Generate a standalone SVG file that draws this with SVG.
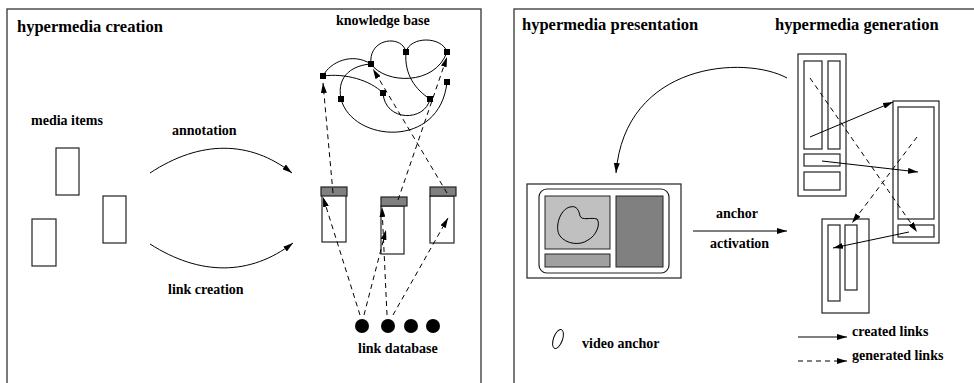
<svg xmlns="http://www.w3.org/2000/svg" width="974" height="383" viewBox="0 0 974 383">
<style>
text{font-family:"Liberation Serif","Times New Roman",serif;font-weight:bold;fill:#000}
.t{font-size:16.5px}
.l{font-size:14px}
.frame{fill:none;stroke:#333;stroke-width:1.3}
.box{fill:#fff;stroke:#222;stroke-width:1.2}
.hdr{fill:#808080;stroke:#222;stroke-width:1.2}
.ln{fill:none;stroke:#000;stroke-width:1}
.ds{fill:none;stroke:#000;stroke-width:1;stroke-dasharray:5,4}
.kn{fill:#000}
</style>
<defs>
<marker id="ah" viewBox="0 0 10 6" refX="10" refY="3" markerWidth="10" markerHeight="6" markerUnits="userSpaceOnUse" orient="auto">
<path d="M0,0 L10,3 L0,6 Z" fill="#000"/>
</marker>
</defs>

<rect class="frame" x="7" y="9" width="474" height="390"/>
<rect class="frame" x="514" y="9" width="470" height="390"/>

<g id="creation-title"><text class="t" x="17" y="32">hypermedia creation</text></g>
<g id="kb-title"><text class="l" x="336" y="25">knowledge base</text></g>
<g id="media-items">
<text class="l" x="31" y="125">media items</text>
<rect class="box" x="56" y="148" width="23" height="47"/>
<rect class="box" x="32" y="219" width="24" height="47"/>
<rect class="box" x="103" y="196" width="23" height="47"/>
</g>
<g id="annotation-label"><text class="l" x="172" y="135">annotation</text></g>
<g id="link-creation-label"><text class="l" x="168" y="294">link creation</text></g>

<g id="doc1">
<rect class="box" x="322" y="195" width="24" height="47"/>
<rect class="hdr" x="321" y="187" width="26" height="9"/>
</g>
<g id="doc2">
<rect class="box" x="381" y="206" width="23" height="48"/>
<rect class="hdr" x="381" y="197" width="26" height="9"/>
</g>
<g id="doc3">
<rect class="box" x="430" y="196" width="24" height="47"/>
<rect class="hdr" x="430" y="187" width="26" height="9"/>
</g>

<g id="link-database">
<circle class="kn" cx="362" cy="326" r="7"/>
<circle class="kn" cx="388" cy="326" r="7"/>
<circle class="kn" cx="411" cy="326" r="7"/>
<circle class="kn" cx="433" cy="326" r="7"/>
<text class="l" x="358" y="353">link database</text>
</g>

<g id="knowledge-base">
<path class="ln" d="M323,76 C330,62 352,52 371,64"/>
<path class="ln" d="M323,76 C345,73 370,80 383,93"/>
<path class="ln" d="M371,64 C368,38 402,34 406,52"/>
<path class="ln" d="M406,52 C410,36 442,36 447,52"/>
<path class="ln" d="M371,64 C385,84 435,86 447,52"/>
<path class="ln" d="M406,52 C404,75 416,90 430,99"/>
<path class="ln" d="M383,93 C385,122 425,122 430,99"/>
<path class="ln" d="M341,99 C336,74 355,65 371,64"/>
<path class="ln" d="M341,99 C352,142 440,150 447,82"/>
<rect class="kn" x="320" y="73" width="6" height="6"/>
<rect class="kn" x="368" y="61" width="6" height="6"/>
<rect class="kn" x="403" y="49" width="6" height="6"/>
<rect class="kn" x="444" y="49" width="6" height="6"/>
<rect class="kn" x="444" y="79" width="6" height="6"/>
<rect class="kn" x="380" y="90" width="6" height="6"/>
<rect class="kn" x="427" y="96" width="6" height="6"/>
<rect class="kn" x="338" y="96" width="6" height="6"/>
</g>

<g id="presentation-title"><text class="t" x="522" y="30">hypermedia presentation</text></g>
<g id="generation-title"><text class="t" x="775" y="30">hypermedia generation</text></g>

<g id="screen">
<rect class="box" x="527" y="184" width="154" height="94"/>
<rect class="box" x="539" y="189" width="130" height="84" rx="8"/>
<rect x="545" y="196" width="65" height="53" fill="#c0c0c0" stroke="#222" stroke-width="1"/>
<rect x="545" y="254" width="65" height="13" fill="#a0a0a0" stroke="#222" stroke-width="1"/>
<rect x="616" y="196" width="47" height="71" fill="#808080" stroke="#222" stroke-width="1"/>
<path class="ln" d="M570,207 C577,205 579,211 580,216 C582,221 591,217 597,219 C601,224 596,236 588,240 C580,246 566,244 560,236 C554,228 560,209 570,207 Z" stroke-width="1.2"/>
</g>

<g id="anchor-activation">
<text class="l" x="716" y="218">anchor</text>
<text class="l" x="710" y="248">activation</text>
</g>

<g id="genA">
<rect class="box" x="798" y="54" width="48" height="142"/>
<rect class="box" x="804" y="61" width="18" height="88"/>
<rect class="box" x="828" y="61" width="12" height="88"/>
<rect class="box" x="804" y="154" width="36" height="12"/>
<rect class="box" x="804" y="172" width="36" height="18"/>
</g>
<g id="genB">
<rect class="box" x="893" y="101" width="46" height="142"/>
<rect class="box" x="898" y="107" width="36" height="112"/>
<rect class="box" x="898" y="225" width="36" height="12"/>
</g>
<g id="genC">
<rect class="box" x="822" y="219" width="47" height="94"/>
<rect class="box" x="828" y="225" width="12" height="76"/>
<rect class="box" x="845" y="225" width="12" height="65"/>
</g>

<g id="legend">
<path class="ln" d="M798,337 L847,337" marker-end="url(#ah)"/>
<path class="ds" d="M798,361 L847,361" marker-end="url(#ah)"/>
<text class="l" x="852" y="336">created links</text>
<text class="l" x="852" y="360">generated links</text>
<ellipse cx="558" cy="339" rx="4.5" ry="10" transform="rotate(20 558 339)" fill="none" stroke="#000" stroke-width="1"/>
<text class="l" x="582" y="348">video anchor</text>
</g>

<g id="connectors">
<path class="ln" d="M150,173 C200,140 250,140 292,173" marker-end="url(#ah)"/>
<path class="ln" d="M150,244 C200,276 250,276 293,243" marker-end="url(#ah)"/>
<path class="ds" d="M360,315 L323,197" marker-end="url(#ah)"/>
<path class="ds" d="M364,315 L386,230" marker-end="url(#ah)"/>
<path class="ds" d="M387,315 L382,207" marker-end="url(#ah)"/>
<path class="ds" d="M393,315 L448,218" marker-end="url(#ah)"/>
<path class="ds" d="M333,193 L323,83" marker-end="url(#ah)"/>
<path class="ds" d="M398,200 L447,57" marker-end="url(#ah)"/>
<path class="ds" d="M447,193 L373,69" marker-end="url(#ah)"/>
<path class="ln" d="M787,78 C745,55 625,62 616,173" marker-end="url(#ah)"/>
<path class="ln" d="M693,231 L787,231" marker-end="url(#ah)"/>
<path class="ln" d="M810,137 L893,102" marker-end="url(#ah)"/>
<path class="ln" d="M822,161 L918,172" marker-end="url(#ah)"/>
<path class="ln" d="M909,232 L833,248" marker-end="url(#ah)"/>
<path class="ds" d="M810,78 L917,232" marker-end="url(#ah)"/>
<path class="ds" d="M917,137 L852,223" marker-end="url(#ah)"/>
</g>
</svg>
